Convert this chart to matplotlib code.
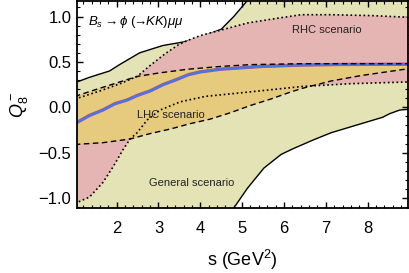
import matplotlib
matplotlib.use("Agg")
import matplotlib.pyplot as plt
import matplotlib.patheffects as pe
from matplotlib.ticker import MultipleLocator

plt.rcParams["font.family"] = ["Liberation Sans", "DejaVu Sans"]
plt.rcParams["mathtext.fontset"] = "custom"
plt.rcParams["mathtext.rm"] = "Liberation Sans"
plt.rcParams["mathtext.it"] = "Liberation Sans:italic"

# general scenario: solid boundaries
gen_up_x = [1.0, 1.35, 1.83, 2.07, 2.55, 3.1, 3.6, 4.0, 4.5, 4.8, 5.15, 5.5]
gen_up_y = [0.27, 0.33, 0.40, 0.47, 0.60, 0.68, 0.72, 0.77, 0.86, 1.0, 1.19, 1.45]
gen_lo_x = [4.7, 4.8, 5.13, 5.52, 5.93, 6.2, 6.45, 6.7, 7.13, 7.78, 8.36, 8.53, 8.77, 9.05]
gen_lo_y = [-1.35, -1.11, -0.89, -0.67, -0.52, -0.46, -0.41, -0.36, -0.28, -0.19, -0.11, -0.07, -0.03, -0.02]

# RHC scenario: dotted boundaries
rhc_up_x = [1.0, 1.6, 2.08, 2.49, 2.8, 3.16, 3.48, 3.72, 4.0, 4.49, 5.14, 5.69, 6.41, 7.13, 8.1, 9.05]
rhc_up_y = [0.09, 0.18, 0.26, 0.34, 0.46, 0.59, 0.69, 0.74, 0.79, 0.85, 0.93, 0.97, 1.02, 1.02, 1.01, 0.99]
rhc_lo_x = [1.0, 1.35, 1.67, 1.91, 2.15, 2.32, 2.49, 2.73, 3.04, 3.52, 4.12, 5.2, 6.45, 7.6, 9.05]
rhc_lo_y = [-1.06, -0.99, -0.83, -0.66, -0.47, -0.35, -0.28, -0.14, -0.03, 0.06, 0.12, 0.17, 0.23, 0.26, 0.28]

# LHC scenario: dashed boundaries
lhc_up_x = [1.0, 1.6, 2.08, 2.49, 3.04, 3.72, 4.49, 5.2, 6.41, 7.6, 9.05]
lhc_up_y = [0.12, 0.21, 0.28, 0.34, 0.38, 0.42, 0.45, 0.47, 0.48, 0.48, 0.48]
lhc_lo_x = [1.0, 1.67, 2.32, 2.8, 3.28, 3.76, 4.24, 4.72, 5.2, 5.68, 6.17, 6.45, 7.13, 7.85, 9.05]
lhc_lo_y = [-0.41, -0.39, -0.35, -0.29, -0.24, -0.18, -0.13, -0.06, 0.02, 0.09, 0.17, 0.21, 0.29, 0.35, 0.43]

# SM-like central curve
sm_x = [1.0, 1.35, 1.67, 1.96, 2.25, 2.49, 2.8, 3.11, 3.4, 3.72, 4.0, 4.49, 4.97, 5.45, 6.41, 7.37, 9.05]
sm_y = [-0.18, -0.09, -0.03, 0.04, 0.08, 0.13, 0.18, 0.25, 0.30, 0.36, 0.39, 0.42, 0.435, 0.45, 0.465, 0.472, 0.475]

c_gen, c_rhc, c_lhc = "#e3e3b6", "#e5b5b4", "#e6ca7e"

fig = plt.figure(figsize=(4.09, 2.73), dpi=100)
ax = fig.add_axes([0.188, 0.238, 0.809, 0.758])

# general region polygon (closed below / above the visible window)
px = gen_up_x + [9.3, 9.3] + gen_lo_x[::-1] + [4.5, 0.8, 0.8]
py = gen_up_y + [1.45, -0.02] + gen_lo_y[::-1] + [-1.5, -1.5, 0.27]
ax.fill(px, py, color=c_gen, lw=0, zorder=1)
ax.plot(gen_up_x, gen_up_y, color="k", lw=1.0, zorder=2)
ax.plot(gen_lo_x, gen_lo_y, color="k", lw=1.0, zorder=2)

ax.fill(rhc_up_x + rhc_lo_x[::-1], rhc_up_y + rhc_lo_y[::-1], color=c_rhc, lw=0, zorder=3)
ax.fill(lhc_up_x + lhc_lo_x[::-1], lhc_up_y + lhc_lo_y[::-1], color=c_lhc, lw=0, zorder=4)

ax.plot(sm_x, sm_y, color="#4677ea", lw=1.6, zorder=5,
        path_effects=[pe.Stroke(linewidth=2.4, foreground="#b0508a"), pe.Normal()])

dot = (0, (1, 1.6))
ax.plot(rhc_up_x, rhc_up_y, color="k", lw=1.2, ls=dot, zorder=6)
ax.plot(rhc_lo_x, rhc_lo_y, color="k", lw=1.2, ls=dot, zorder=6)
ax.plot(lhc_up_x, lhc_up_y, color="k", lw=1.0, ls=(0, (4, 2.5)), zorder=6)
ax.plot(lhc_lo_x, lhc_lo_y, color="k", lw=1.0, ls=(0, (4, 2.5)), zorder=6)

ax.text(1.31, 0.94, r"$B_s \rightarrow \phi\ (\!\!\rightarrow\!\! KK)\mu\mu$", fontsize=9.5, va="center", zorder=7)
ax.text(6.19, 0.85, "RHC scenario", fontsize=8, va="center", color="#222222", zorder=7)
ax.text(2.48, -0.08, "LHC scenario", fontsize=8, va="center", color="#222222", zorder=5)
ax.text(2.77, -0.83, "General scenario", fontsize=8, va="center", color="#222222", zorder=7)

ax.set_xlim(1.05, 8.96)
ax.set_ylim(-1.11, 1.17)
ax.xaxis.set_major_locator(MultipleLocator(1))
ax.xaxis.set_minor_locator(MultipleLocator(0.2))
ax.yaxis.set_major_locator(MultipleLocator(0.5))
ax.yaxis.set_minor_locator(MultipleLocator(0.1))
ax.set_yticks([-1.0, -0.5, 0.0, 0.5, 1.0])
ax.set_yticklabels(["\u22121.0", "\u22120.5", "0.0", "0.5", "1.0"])
ax.tick_params(which="both", direction="in", top=True, right=True, labelsize=12)
ax.tick_params(axis="x", pad=9)
ax.tick_params(axis="y", pad=4)
ax.tick_params(which="major", length=4, width=1.0)
ax.tick_params(which="minor", length=2, width=0.8)
for s in ax.spines.values():
    s.set_linewidth(1.3)
    s.set_zorder(10)

ax.set_xlabel(r"s (GeV$^2$)", fontsize=13, labelpad=9)
ax.set_ylabel(r"$Q_8^-$", fontsize=13, labelpad=6)

fig.savefig("out.png", dpi=100)
